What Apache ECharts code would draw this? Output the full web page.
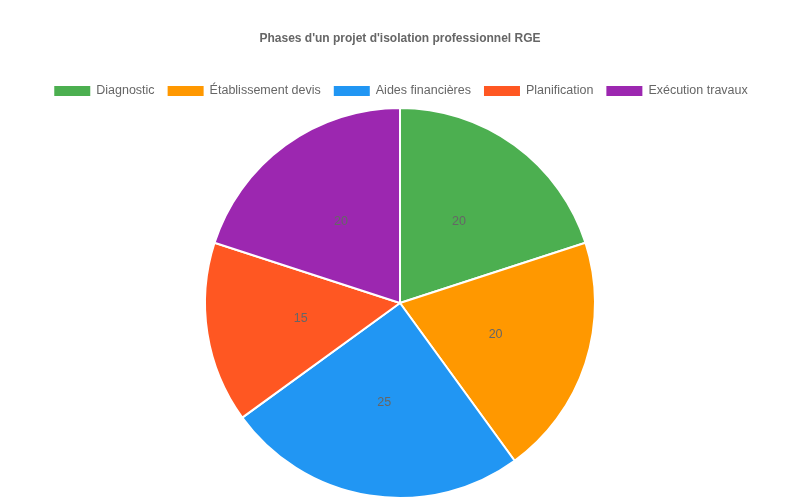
<!DOCTYPE html>
<html><head><meta charset="utf-8">
<script src="https://cdn.jsdelivr.net/npm/echarts@6/dist/echarts.min.js"></script>
<style>html,body{margin:0;padding:0;background:#fff}#c{width:800px;height:500px}</style>
</head><body><div id="c"></div>
<script>
const categories = ["Diagnostic", "Établissement devis", "Aides financières", "Planification", "Exécution travaux"];
const values = [20, 20, 25, 15, 20];
const colors = ["#4CAF50", "#FF9800", "#2196F3", "#FF5722", "#9C27B0"];
const titleText = "Phases d'un projet d'isolation professionnel RGE";

const chart = echarts.init(document.getElementById('c'));
chart.setOption({
  animation: false,
  title: {
    text: titleText, left: 'center', top: 28,
    textStyle: { fontFamily: 'Liberation Sans, Arial, sans-serif', fontSize: 12, fontWeight: 'bold', color: '#666' }
  },
  legend: {
    top: 84, left: 'center', itemWidth: 38, itemHeight: 12, itemGap: 11,
    icon: 'rect', padding: 0,
    textStyle: { fontFamily: 'Liberation Sans, Arial, sans-serif', fontSize: 12.5, color: '#666' },
    data: categories
  },
  series: [{
    type: 'pie', center: [400, 303], radius: 195, startAngle: 90, clockwise: true,
    itemStyle: { borderColor: '#fff', borderWidth: 2 },
    label: { position: 'inside', formatter: '{c}', fontFamily: 'Liberation Sans, Arial, sans-serif', fontSize: 12.5, color: '#666' },
    labelLine: { show: false },
    emphasis: { disabled: true },
    data: categories.map((n, i) => ({ name: n, value: values[i], itemStyle: { color: colors[i] } }))
  }]
});
</script></body></html>
